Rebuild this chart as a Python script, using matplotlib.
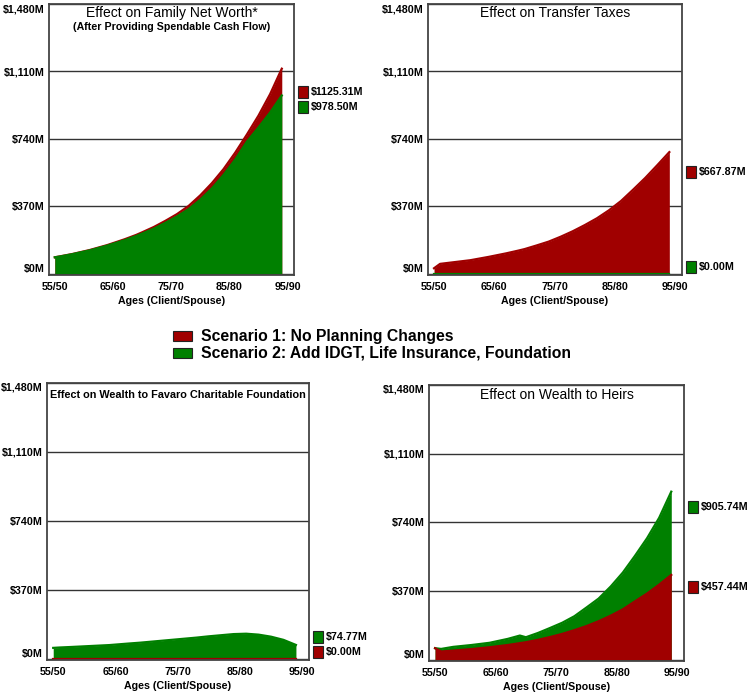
import matplotlib
matplotlib.use("Agg")
import matplotlib.pyplot as plt
from matplotlib.patches import Rectangle

plt.rcParams['font.family'] = ['Liberation Sans', 'DejaVu Sans']

# ===== data (values in $M) =====
ages = [55, 56, 58, 61, 64, 67, 69, 70, 72, 74, 76, 78, 80, 82, 84, 86, 88, 90, 92, 94]
age_ticks = [55, 65, 75, 85, 95]
age_labels = ['55/50', '65/60', '75/70', '85/80', '95/90']
y_ticks = [0, 370, 740, 1110, 1480]

networth_s1 = [91, 97, 109, 131, 158, 190, 214, 228, 257, 291, 328, 373, 431, 498,
               575, 665, 764, 868, 986, 1125.31]
networth_s2 = [91, 96, 108, 129, 155, 185, 208, 221, 248, 280, 315, 355, 407, 469,
               543, 627, 725, 803, 885, 978.50]

taxes_s1 = [31, 55, 63, 75, 93, 113, 128, 136, 156, 177, 204, 234, 268, 305,
            349, 400, 462, 526, 596, 667.87]
taxes_s2 = [0] * 19 + [0.00]

charity_s1 = [0] * 19 + [0.00]
charity_s2 = [59, 61, 64, 69, 74, 82, 87, 90, 96, 102, 108, 114, 121, 127,
              133, 135, 130, 119, 102, 74.77]

heirs_s1 = [63, 45, 50, 58, 68, 80, 90, 95, 108, 123, 140, 160, 182, 208,
            238, 272, 315, 357, 405, 457.44]
heirs_s2 = [63, 59, 70, 80, 92, 113, 131, 122, 145, 172, 200, 235, 282, 330,
            395, 470, 560, 655, 765, 905.74]

scenario_names = ['Scenario 1: No Planning Changes',
                  'Scenario 2: Add IDGT, Life Insurance, Foundation']

# ===== style =====
W, H = 751, 696
RED = '#a00000'
GREEN = '#008000'
SMALL = 7.7


def fig_box(x0, y0, x1, y1):
    # pixel box (top-left origin) -> figure fraction rect
    return [x0 / W, 1 - y1 / H, (x1 - x0) / W, (y1 - y0) / H]


def square(fig, x, yc, w, h, color):
    fig.add_artist(Rectangle((x / W, 1 - (yc + h / 2) / H), w / W, h / H,
                             transform=fig.transFigure, facecolor=color,
                             edgecolor='#222222', linewidth=0.8))


fig = plt.figure(figsize=(W / 100, H / 100), dpi=100)

panels = [
    # box, s1, s2, label y centres (s1, s2)
    ((49, 4, 294, 275), networth_s1, networth_s2, (92, 107)),
    ((428, 4, 682, 275), taxes_s1, taxes_s2, (172, 267)),
    ((47, 383, 309, 660), charity_s1, charity_s2, (652, 637)),
    ((429, 385, 684, 661), heirs_s1, heirs_s2, (587, 507)),
]

axes = []
for box, s1, s2, lab_y in panels:
    ax = fig.add_axes(fig_box(*box))
    axes.append(ax)

    series = [(s1, RED), (s2, GREEN)]
    # larger series at the back
    series.sort(key=lambda s: -max(s[0]))
    for z, (vals, col) in enumerate(series):
        ax.fill_between(ages, 0, vals, color=col, linewidth=0, zorder=2 + z)
        ax.plot(ages, vals, color=col, linewidth=1.6, zorder=2 + z)

    ax.set_xlim(54, 96.1)
    ax.set_ylim(-6, 1480)
    ax.set_xticks(age_ticks)
    ax.set_xticklabels(age_labels, fontsize=SMALL, fontweight='bold')
    ax.set_yticks(y_ticks)
    ax.set_yticklabels([f"${v:,}M" for v in y_ticks], fontsize=SMALL,
                       fontweight='bold')
    tl = ax.get_yticklabels()
    tl[0].set_verticalalignment('bottom')
    tl[-1].set_verticalalignment('top')
    ax.tick_params(length=0)
    ax.tick_params(axis='y', pad=3)
    ax.tick_params(axis='x', pad=5)
    ax.yaxis.grid(True, color='#333333', linewidth=1.0, zorder=1)
    ax.set_axisbelow(True)
    for sp in ax.spines.values():
        sp.set_color('#444444')
        sp.set_linewidth(1.3)
        sp.set_zorder(6)
    ax.set_xlabel("Ages (Client/Spouse)", fontsize=SMALL, fontweight='bold',
                  labelpad=3)

    # end value labels
    xr = box[2]
    for vals, col, yc in [(s1, RED, lab_y[0]), (s2, GREEN, lab_y[1])]:
        square(fig, xr + 4, yc, 9.5, 12, col)
        fig.text((xr + 17) / W, 1 - yc / H, f"${vals[-1]:.2f}M",
                 fontsize=SMALL, fontweight='bold', va='center', ha='left')

# ===== titles =====
axes[0].text(0.5, 0.967, "Effect on Family Net Worth*", transform=axes[0].transAxes,
             ha='center', va='center', fontsize=10)
axes[0].text(0.5, 0.915, "(After Providing Spendable Cash Flow)",
             transform=axes[0].transAxes, ha='center', va='center',
             fontsize=SMALL, fontweight='bold')
axes[1].text(0.5, 0.967, "Effect on Transfer Taxes", transform=axes[1].transAxes,
             ha='center', va='center', fontsize=10)
axes[2].text(0.012, 0.956, "Effect on Wealth to Favaro Charitable Foundation",
             transform=axes[2].transAxes, ha='left', va='center',
             fontsize=7.8, fontweight='bold')
axes[3].text(0.5, 0.963, "Effect on Wealth to Heirs", transform=axes[3].transAxes,
             ha='center', va='center', fontsize=10)

# ===== shared legend =====
for i, (name, col) in enumerate(zip(scenario_names, [RED, GREEN])):
    yc = 336 + i * 17
    square(fig, 173, yc, 19, 10, col)
    fig.text(201 / W, 1 - yc / H, name, fontsize=11.3, fontweight='bold',
             va='center', ha='left')

fig.savefig("out.png", dpi=100)
